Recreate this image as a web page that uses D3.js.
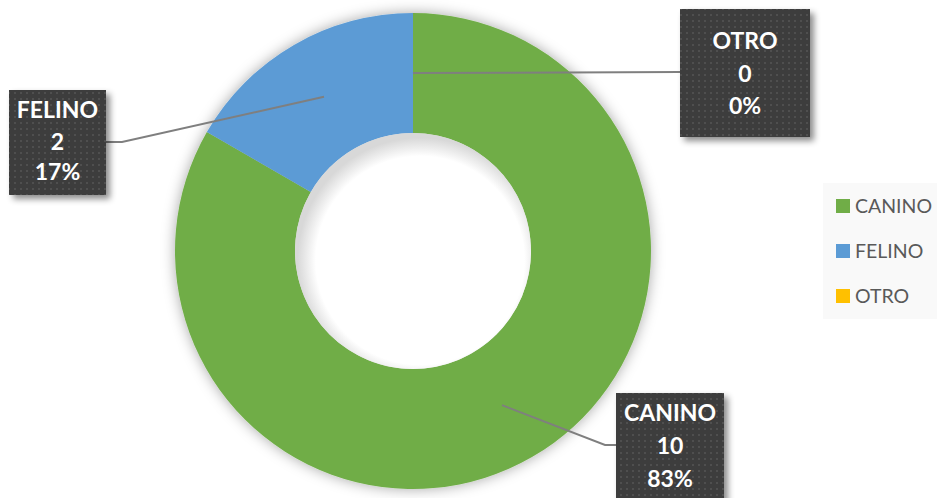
<!DOCTYPE html>
<html><head><meta charset="utf-8">
<script src="https://cdn.jsdelivr.net/npm/d3@7"></script>
<style>html,body{margin:0;padding:0;background:#fff;}svg{display:block;}</style>
</head><body>
<svg id="c" width="937" height="498"></svg>
<script>
const categories = ["CANINO", "FELINO", "OTRO"];
const values = [10, 2, 0];
const colors = ["#70AD47", "#5B9BD5", "#FFC000"];

const svg = d3.select("#c");
const cx = 413, cy = 251, rOuter = 238, rInner = 118;
const defs = svg.append("defs");

// dotted texture pattern for label boxes
const pat = defs.append("pattern").attr("id", "dots").attr("patternUnits", "userSpaceOnUse")
  .attr("width", 6).attr("height", 6);
pat.append("rect").attr("width", 6).attr("height", 6).attr("fill", "#3c3c3c");
pat.append("rect").attr("x", 2).attr("y", 2).attr("width", 2).attr("height", 2).attr("fill", "#4f4f4f");

const sh = defs.append("filter").attr("id", "shadow").attr("x", "-20%").attr("y", "-20%").attr("width", "140%").attr("height", "140%");
sh.append("feDropShadow").attr("dx", 4).attr("dy", 4).attr("stdDeviation", 3).attr("flood-color", "#000").attr("flood-opacity", 0.45);

const glow = defs.append("filter").attr("id", "glow").attr("x", "-20%").attr("y", "-20%").attr("width", "140%").attr("height", "140%");
glow.append("feDropShadow").attr("dx", 0).attr("dy", 0).attr("stdDeviation", 7).attr("flood-color", "#000").attr("flood-opacity", 0.35);

const hole = defs.append("radialGradient").attr("id", "hole").attr("cx", "53%").attr("cy", "54%").attr("r", "52%");
hole.append("stop").attr("offset", "0%").attr("stop-color", "#ffffff");
hole.append("stop").attr("offset", "85%").attr("stop-color", "#ffffff");
hole.append("stop").attr("offset", "100%").attr("stop-color", "#d8d8d8");

const pie = d3.pie().sort(null).value(d => d)(values);
const arc = d3.arc().innerRadius(rInner).outerRadius(rOuter);
const labelArc = d3.arc().innerRadius(178).outerRadius(178);

const g = svg.append("g").attr("transform", `translate(${cx},${cy})`);
const ring = g.append("g").attr("filter", "url(#glow)");
ring.selectAll("path").data(pie).join("path")
  .attr("d", arc).attr("fill", (d, i) => colors[i]);
g.append("circle").attr("r", rInner).attr("fill", "url(#hole)");

const total = d3.sum(values);
const fmt = d3.format(".0%");

// label layout (boxes and elbow points)
const layout = [
  { box: [616, 393, 108, 115], elbow: [605, 445], end: [616, 445], lines: [421, 454, 487] },
  { box: [9, 90, 97, 105], elbow: [122, 142], end: [106, 142], lines: [118, 150, 180] },
  { box: [680, 9, 130, 128], elbow: null, end: [680, 72], lines: [49, 82, 114] }
];

pie.forEach((d, i) => {
  const L = layout[i];
  const c = labelArc.centroid(d);
  const start = [cx + c[0], cy + c[1]];
  const pts = [start];
  if (L.elbow) pts.push(L.elbow);
  pts.push(L.end);
  svg.append("path").attr("d", d3.line()(pts)).attr("fill", "none")
    .attr("stroke", "#7f7f7f").attr("stroke-width", 2);
  const [bx, by, bw, bh] = L.box;
  svg.append("rect").attr("x", bx).attr("y", by).attr("width", bw).attr("height", bh)
    .attr("fill", "url(#dots)").attr("filter", "url(#shadow)");
  const txt = [categories[i], String(values[i]), fmt(values[i] / total)];
  txt.forEach((t, k) => {
    svg.append("text").attr("x", bx + bw / 2).attr("y", L.lines[k])
      .attr("text-anchor", "middle").attr("fill", "#ffffff")
      .attr("font-family", "Lato, 'Open Sans', sans-serif").attr("font-weight", "bold")
      .attr("font-size", 23).text(t);
  });
});

// legend
const lg = svg.append("g");
lg.append("rect").attr("x", 823).attr("y", 183).attr("width", 114).attr("height", 136).attr("fill", "#f9f9f9");
categories.forEach((c, i) => {
  const y = 199 + i * 45;
  lg.append("rect").attr("x", 836).attr("y", y).attr("width", 14).attr("height", 14).attr("fill", colors[i]);
  lg.append("text").attr("x", 855).attr("y", y + 14).attr("fill", "#595959")
    .attr("font-family", "Lato, 'Open Sans', sans-serif").attr("font-size", 19.5).text(c);
});
</script>
</body></html>
